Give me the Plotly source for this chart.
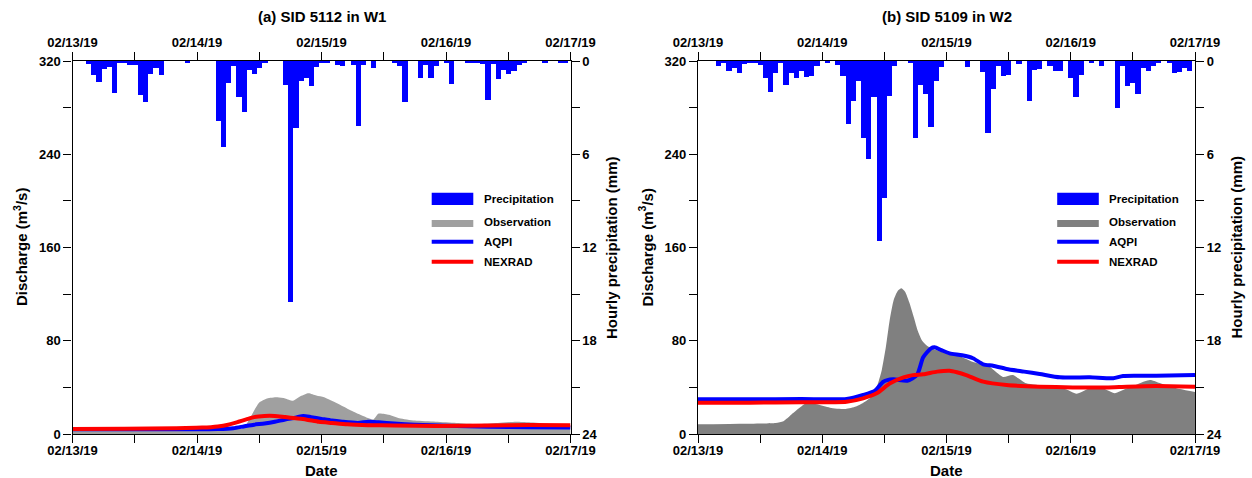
import pandas as pd
import plotly.graph_objects as go

W, H = 1252, 478
START = pd.Timestamp("2019-02-13")
END = pd.Timestamp("2019-02-17")

# ---------------- data ----------------
hours = list(range(97))

precip_w1 = [0, 0, 0, 0.2, 0.9, 1.33, 0.53, 0.37, 2.07, 0.1,
             0.1, 0.26, 0.26, 2.2, 2.64, 0.84, 0.45, 0.9, 0, 0,
             0, 0, 0.15, 0, 0, 0, 0, 0, 3.86, 5.55,
             1.4, 0.3, 2.3, 3.3, 0.6, 0.84, 0.45, 0.15, 0, 0,
             0, 1.55, 15.5, 4.3, 1.29, 1.1, 1.6, 0.37, 0.1, 0.15,
             0, 0.25, 0.3, 0, 0.25, 4.2, 0.25, 0, 0.45, 0,
             0, 0, 0.15, 0.3, 2.66, 0, 0, 1.1, 0.25, 1.1,
             0.3, 0, 0.15, 1.48, 0, 0, 0.15, 0.15, 0.15, 0.2,
             2.5, 0.2, 1.18, 0.6, 0.85, 0.65, 0.25, 0.1, 0, 0,
             0, 0.15, 0, 0, 0.15, 0.15, 0]

precip_w2 = [0, 0, 0, 0, 0.3, 0.15, 0.64, 0.47, 0.8, 0.2,
             0.15, 0.15, 0.25, 1.11, 2.0, 0.8, 0.15, 1.54, 0.8, 1.11,
             0.64, 1.0, 0.94, 0.32, 0, 0.1, 0, 0.25, 0.96, 4.05,
             2.55, 1.29, 4.98, 6.3, 2.34, 11.58, 8.8, 2.23, 0.32, 0,
             0, 0.15, 4.98, 1.54, 2.13, 4.27, 1.29, 0.37, 0, 0,
             0, 0, 0.37, 0, 0, 0.73, 4.65, 1.82, 0.3, 0.94,
             0.9, 0, 0.2, 0, 2.55, 0.58, 0.52, 0, 0.3, 0.64,
             0.64, 0, 1.07, 2.34, 0.9, 0, 0.15, 0, 0.32, 0,
             0, 3.0, 0.32, 1.6, 1.44, 2.13, 0.47, 0.62, 0.32, 0.15,
             0, 0.15, 0.8, 0.73, 0.47, 0.62, 0]

# Observation (W1)
obs1_h = [0, 10, 20, 28, 31, 33, 34, 35, 36, 37.5, 39.5, 41, 42.5, 44, 45.5, 47,
          48.5, 50, 52, 54, 56, 58, 59, 61, 63, 66, 70, 74, 78, 82, 85.5, 88, 92, 96]
obs1_q = [3, 3, 3.5, 4, 4.5, 5, 12, 20, 27, 30.5, 31.5, 30.5, 28.5, 32.5, 35, 33,
          31.5, 28.5, 24, 19.5, 15.5, 12.5, 17.5, 16.5, 13.5, 11.5, 10.5, 9.5, 8.5, 9.5, 10.5, 10, 8.5, 7.5]
aqpi1_h = [0, 10, 20, 28, 31, 33, 35, 37, 39, 41, 43, 44.5, 46, 48, 50, 52, 55, 57, 59, 62, 66, 72, 80, 88, 96]
aqpi1_q = [4, 4, 4, 4.3, 5, 6.5, 8, 9, 10.5, 12.5, 14, 15.5, 14.5, 13, 11.5, 10.5, 9.5, 10.5, 10, 9, 8, 7, 6.3, 5.8, 5.5]
nex1_h = [0, 10, 20, 25, 28, 30, 32, 33.5, 35, 37, 39, 41, 43, 45, 47.5, 50, 53, 57, 62, 70, 80, 88, 96]
nex1_q = [4.3, 4.5, 5, 5.5, 6.5, 8, 10.5, 12.5, 14.5, 15.5, 15.5, 14.5, 13.5, 12.5, 10.5, 9.5, 8.3, 7.6, 7.3, 6.9, 7.2, 7.7, 7.5]

# Observation (W2)
obs2_h = [0, 8, 15, 16.5, 18, 19.5, 21, 23, 25.5, 28.5, 30.5, 32, 33.5, 34.5, 35.5, 36.3, 37,
          37.8, 38.6, 39.3, 40, 40.8, 41.7, 42.5, 43.3, 44.3, 46, 48, 50, 53, 56.3, 58.9,
          60.8, 63.4, 67.3, 71.1, 73.1, 75.7, 78.3, 80.5, 82.8, 85, 87.3, 89, 91.2, 96]
obs2_q = [8.3, 8.8, 9.5, 11, 16.5, 22, 26.5, 25.5, 22.6, 21.4, 23.5, 27, 32, 40, 55, 75, 97,
          115, 123, 125, 122, 113, 100, 88, 80, 75.5, 72, 71, 68, 62, 57.7, 49,
          50.6, 43.5, 41.2, 38.3, 34.5, 39.2, 39, 35, 39.2, 43, 46.3, 44, 40.6, 36]
aqpi2_h = [0, 10, 20, 28.7, 31.9, 34.2, 35.8, 37.7, 40.4, 42.3, 43.5, 45, 45.7, 47, 48.6, 51,
           53.1, 55.1, 57, 59.6, 63, 66, 69.9, 75.7, 80.2, 82.1, 88.5, 96]
aqpi2_q = [29.8, 29.8, 30, 30, 33.5, 37.2, 44.9, 46.9, 45.7, 50.6, 65.8, 73.5, 74.4, 72, 69.2, 67.5,
           65, 59.8, 58.5, 55.8, 53.5, 51.5, 48.6, 48.6, 47.8, 49.8, 49.9, 50.6]
nex2_h = [0, 10, 20, 28.7, 31.9, 34.5, 37.1, 39.7, 41.5, 43.5, 46.2, 48.6, 50, 51.8, 55.1, 59.6,
          66, 72.4, 78.9, 82.8, 88.5, 96]
nex2_q = [26.9, 26.9, 27.2, 27.7, 30.6, 34.9, 43.5, 48.6, 50.5, 51.2, 53.5, 54.3, 53, 50.6, 44.9, 42,
          40.6, 40, 40, 40.6, 41.2, 40.6]

titles = ["(a) SID 5112 in W1", "(b) SID 5109 in W2"]
legend_labels = ["Precipitation", "Observation", "AQPI", "NEXRAD"]
q_ticks = [0, 80, 160, 240, 320]
p_ticks = [0, 6, 12, 18, 24]

# ---------------- helpers ----------------
def t(hs):
    return [START + pd.Timedelta(hours=h) for h in hs]

def fx(p):
    return p / W

def fy(p):
    return 1 - p / H

BLUE = "#0000ff"
RED = "#ff0000"
FONT = "Liberation Sans, Arial, sans-serif"

panels = [
    dict(x0=72.5, x1=570.5, ax=("x", "y", "x2", "y2"), gray="#a0a0a0",
         precip=precip_w1, obs=(obs1_h, obs1_q), aqpi=(aqpi1_h, aqpi1_q), nex=(nex1_h, nex1_q)),
    dict(x0=698, x1=1195, ax=("x3", "y3", "x4", "y4"), gray="#808080",
         precip=precip_w2, obs=(obs2_h, obs2_q), aqpi=(aqpi2_h, aqpi2_q), nex=(nex2_h, nex2_q)),
]

Y_TOP, Y_BOT = 61, 434
ydom = [fy(Y_BOT), fy(Y_TOP)]

fig = go.Figure()
layout = dict(template="none", width=W, height=H, margin=dict(l=0, r=0, t=0, b=0, pad=0),
              autosize=False,
              paper_bgcolor="white", plot_bgcolor="white", showlegend=False,
              bargap=0, font=dict(family=FONT, color="black"))
annotations = []
shapes = []

tickfont = dict(family=FONT, size=13, color="black", weight="bold")

def axname(a):
    return a[0] + "axis" + a[1:]

for i, p in enumerate(panels):
    xa, ya, xa2, ya2 = p["ax"]
    dom = [fx(p["x0"]), fx(p["x1"])]
    oh, oq = p["obs"]
    fig.add_trace(go.Scatter(x=t(oh), y=oq, xaxis=xa, yaxis=ya, mode="lines",
                             line=dict(width=0, shape="spline", smoothing=0.6),
                             fill="tozeroy", fillcolor=p["gray"]))
    ah, aq = p["aqpi"]
    fig.add_trace(go.Scatter(x=t(ah), y=aq, xaxis=xa, yaxis=ya, mode="lines",
                             line=dict(width=4, color=BLUE, shape="spline", smoothing=0.6)))
    nh, nq = p["nex"]
    fig.add_trace(go.Scatter(x=t(nh), y=nq, xaxis=xa, yaxis=ya, mode="lines",
                             line=dict(width=4, color=RED, shape="spline", smoothing=0.6)))
    fig.add_trace(go.Bar(x=t(hours), y=p["precip"], xaxis=xa2, yaxis=ya2,
                         width=[3600000] * len(hours), marker=dict(color=BLUE, line=dict(width=0))))

    xcommon = dict(type="date", range=[START, END], domain=dom, showline=True, linecolor="black",
                   linewidth=1.2, ticks="outside", ticklen=8, tickwidth=1.2, tickcolor="black",
                   tick0=START, dtick=86400000, tickformat="%m/%d/%y", tickfont=tickfont,
                   showgrid=False, zeroline=False, automargin=False,
                   minor=dict(tick0=START, dtick=43200000, ticks="outside", ticklen=8,
                              tickwidth=1.2, tickcolor="black", showgrid=False))
    layout[axname(xa)] = dict(xcommon, anchor=ya, side="bottom", ticklabelstandoff=-4)
    layout[axname(xa2)] = dict(xcommon, anchor=ya, side="top", overlaying=xa)
    layout[axname(ya)] = dict(range=[0, 320], domain=ydom, anchor=xa, showline=True, linecolor="black",
                              linewidth=1.2, ticks="outside", ticklen=8, tickwidth=1.2, tickcolor="black",
                              tickvals=q_ticks, tickfont=tickfont, showgrid=False, zeroline=False,
                              automargin=False,
                              minor=dict(dtick=40, tick0=0, ticks="outside", ticklen=8, tickwidth=1.2,
                                         tickcolor="black", showgrid=False))
    layout[axname(ya2)] = dict(range=[24, 0], overlaying=ya, side="right", anchor=xa, showline=True,
                               linecolor="black", linewidth=1.2, ticks="outside", ticklen=8, tickwidth=1.2,
                               tickcolor="black", tickvals=p_ticks, tickfont=tickfont, showgrid=False,
                               zeroline=False, automargin=False,
                               minor=dict(dtick=3, tick0=0, ticks="outside", ticklen=8, tickwidth=1.2,
                                          tickcolor="black", showgrid=False))

    cx = (p["x0"] + p["x1"]) / 2
    big = dict(family=FONT, size=15, color="black", weight="bold")
    annotations.append(dict(x=fx(cx), y=fy(17), xref="paper", yref="paper", text=titles[i],
                            showarrow=False, font=big, xanchor="center", yanchor="middle"))
    annotations.append(dict(x=fx(cx), y=fy(470), xref="paper", yref="paper", text="Date",
                            showarrow=False, font=big, xanchor="center", yanchor="middle"))
    annotations.append(dict(x=fx(p["x0"] - 52), y=fy(247.5), xref="paper", yref="paper",
                            text="Discharge (m<sup>3</sup>/s)", textangle=-90,
                            showarrow=False, font=big, xanchor="center", yanchor="middle"))
    annotations.append(dict(x=fx(p["x1"] + 41), y=fy(247.5), xref="paper", yref="paper",
                            text="Hourly precipitation (mm)", textangle=-90,
                            showarrow=False, font=big, xanchor="center", yanchor="middle"))

    # manual legend
    off = p["x0"] - 72.5
    sx0, sx1 = 431.7 + off, 473.3 + off
    shapes.append(dict(type="rect", xref="paper", yref="paper", x0=fx(sx0), x1=fx(sx1),
                       y0=fy(205), y1=fy(192.7), fillcolor=BLUE, line=dict(width=0)))
    shapes.append(dict(type="rect", xref="paper", yref="paper", x0=fx(sx0), x1=fx(sx1),
                       y0=fy(227), y1=fy(220), fillcolor=p["gray"], line=dict(width=0)))
    shapes.append(dict(type="line", xref="paper", yref="paper", x0=fx(sx0), x1=fx(sx1),
                       y0=fy(241.7), y1=fy(241.7), line=dict(color=BLUE, width=4)))
    shapes.append(dict(type="line", xref="paper", yref="paper", x0=fx(sx0), x1=fx(sx1),
                       y0=fy(261.7), y1=fy(261.7), line=dict(color=RED, width=4)))
    lf = dict(family=FONT, size=11.5, color="black", weight="bold")
    for lab, yy in zip(legend_labels, [199, 222, 242, 262]):
        annotations.append(dict(x=fx(481.7 + off), y=fy(yy), xref="paper", yref="paper", text=lab,
                                showarrow=False, font=lf, xanchor="left", yanchor="middle"))

layout["annotations"] = annotations
layout["shapes"] = shapes
fig.update_layout(**layout)
fig.write_html("out.html")
